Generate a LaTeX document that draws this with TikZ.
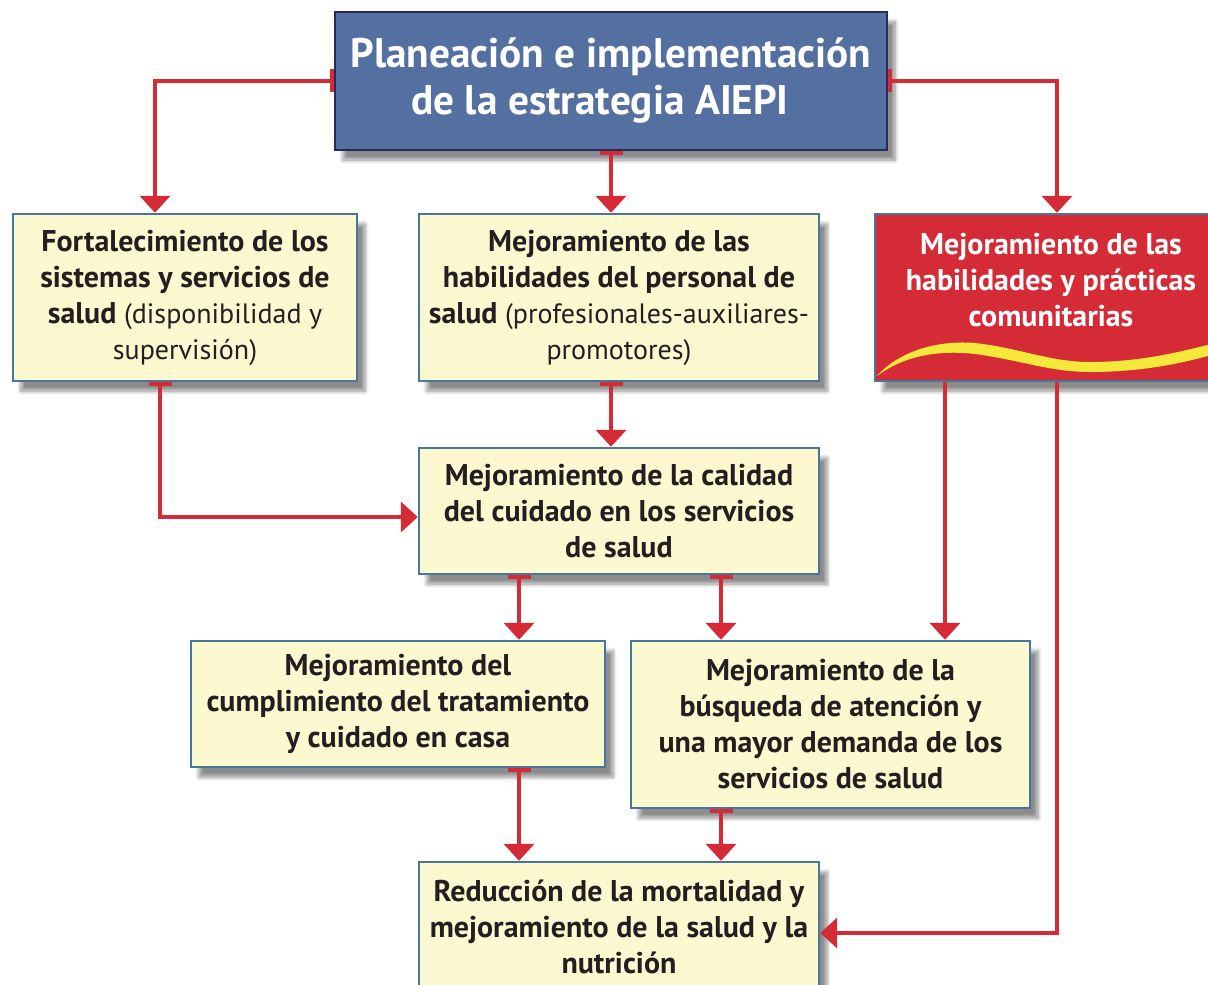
\documentclass[tikz,border=0pt]{standalone}
\usepackage{fontspec}
\setmainfont{PT Sans}[BoldFeatures={Scale=1.07}]
\usetikzlibrary{arrows.meta,calc,shadows.blur}

\definecolor{azulplan}{RGB}{84,112,160}
\definecolor{bordeplan}{RGB}{42,40,92}
\definecolor{rojo}{RGB}{213,43,54}
\definecolor{crema}{RGB}{252,248,208}
\definecolor{bordecaja}{RGB}{72,118,152}
\definecolor{amarillo}{RGB}{244,232,58}
\definecolor{texto}{RGB}{35,31,32}

\tikzset{
  caja/.style={draw=bordecaja, fill=crema, line width=1.2pt, align=center,
    text=texto, inner sep=0pt, font=\fontsize{14}{18}\selectfont\bfseries,
    blur shadow={shadow xshift=4pt, shadow yshift=-5pt, shadow blur steps=8, shadow opacity=45}},
  cajaroja/.style={caja, fill=rojo, text=white},
  cajaplan/.style={caja, fill=azulplan, draw=bordeplan, text=white,
    font=\fontsize{19.3}{23.5}\selectfont\bfseries},
  flecha/.style={draw=rojo, line width=2pt, -{Triangle[width=15pt,length=8.5pt]}},
  flechab/.style={flecha, {Bar[width=11.5pt]}-{Triangle[width=15pt,length=8.5pt]}},
}

\begin{document}
\begin{tikzpicture}[x=0.5pt,y=-0.5pt]
    \useasboundingbox (0,0) rectangle (1208,984);

    % Cajas
    \node[cajaplan, minimum width=276pt, minimum height=69pt] (plan) at (611,81)
      {Planeación e implementación\\ de la estrategia AIEPI\hspace*{11pt}};
    \node[caja, minimum width=172pt, minimum height=83.5pt] (fort) at (185,297.5)
      {Fortalecimiento de los\\ sistemas y servicios de\\ salud {\mdseries (disponibilidad y}\\ {\mdseries supervisión)}};
    \node[caja, minimum width=200pt, minimum height=83.5pt] (habper) at (619,297.5)
      {Mejoramiento de las\\ habilidades del personal de\\ salud {\mdseries (profesionales-auxiliares-}\\ {\mdseries promotores)}};
    \node[cajaroja, minimum width=176pt, minimum height=83.5pt] (habcom) at (1051,297.5)
      {Mejoramiento de las\\ habilidades y prácticas\\ comunitarias\\ \mbox{}};
    \node[caja, minimum width=200pt, minimum height=63pt] (calidad) at (619,511)
      {Mejoramiento de la calidad\\ del cuidado en los servicios\\ de salud};
    \node[caja, minimum width=207pt, minimum height=63pt] (cumpl) at (398,704)
      {Mejoramiento del\\ cumplimiento del tratamiento\\ y cuidado en casa};
    \node[caja, minimum width=199.5pt, minimum height=83.5pt] (busq) at (830.5,724.5)
      {Mejoramiento de la\\ búsqueda de atención y\\ una mayor demanda de los\\ servicios de salud};
    \node[caja, minimum width=200pt, minimum height=65pt] (reduc) at (619,927)
      {Reducción de la mortalidad y\\ mejoramiento de la salud y la\\ nutrición};

    % Onda amarilla
    \fill[amarillo] (877,376) .. controls (900,350) and (940,340) .. (975,343)
      .. controls (1020,348) and (1050,362) .. (1090,362)
      .. controls (1140,362) and (1180,352) .. (1215,343)
      -- (1215,354) .. controls (1180,364) and (1140,372) .. (1090,372)
      .. controls (1050,372) and (1020,360) .. (975,354)
      .. controls (940,350) and (905,355) .. cycle;

    % Puntos de salida
    \coordinate (s1) at ($(calidad.south)+(-100,0)$);
    \coordinate (s2) at ($(calidad.south)+(102,0)$);
    \coordinate (s3) at ($(habcom.south)+(-106,0)$);
    \coordinate (s4) at ($(habcom.south)+(6,0)$);

    % Flechas
    \draw[flechab] (plan.west) -| ($(fort.north)+(-30,0)$);
    \draw[flechab] (plan.south) -- (plan.south |- habper.north);
    \draw[flechab] (plan.east) -| (s4 |- habcom.north);
    \draw[flechab] (plan.south |- habper.south) -- (plan.south |- calidad.north);
    \draw[flechab] ($(fort.south)+(-25,0)$) |- ($(calidad.west)+(0,6)$);
    \draw[flechab] (s1) -- (s1 |- cumpl.north);
    \draw[flechab] (s2) -- (s2 |- busq.north);
    \draw[flechab] (s1 |- cumpl.south) -- (s1 |- reduc.north);
    \draw[flechab] (s2 |- busq.south) -- (s2 |- reduc.north);
    \draw[flecha] (s3) -- (s3 |- busq.north);
    \draw[flecha] (s4) |- ($(reduc.east)+(0,6)$);
\end{tikzpicture}
\end{document}
